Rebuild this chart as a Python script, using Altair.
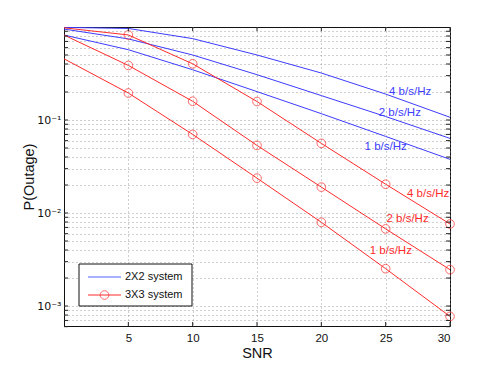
import altair as alt
import pandas as pd

# ---- data ----
snr = [0, 5, 10, 15, 20, 25, 30]
blue_4 = [0.99, 0.965, 0.75, 0.50, 0.32, 0.19, 0.107]
blue_2 = [0.95, 0.745, 0.50, 0.307, 0.183, 0.109, 0.0634]
blue_1 = [0.82, 0.57, 0.347, 0.202, 0.117, 0.0666, 0.0378]
red_4 = [0.98, 0.821, 0.402, 0.158, 0.0561, 0.0204, 0.00762]
red_2 = [0.82, 0.386, 0.159, 0.0533, 0.019, 0.00675, 0.00246]
red_1 = [0.455, 0.195, 0.070, 0.0237, 0.00795, 0.00252, 0.000773]

systems = ["2X2 system", "3X3 system"]
rates = ["4 b/s/Hz", "2 b/s/Hz", "1 b/s/Hz"]

ann_text = rates + rates
ann_sys = ["2X2 system"] * 3 + ["3X3 system"] * 3
ann_x = [26.9, 26.1, 25.0, 28.3, 26.7, 25.4]
ann_y = [0.202, 0.12, 0.0508, 0.016, 0.00863, 0.00393]

x_ticks = [5, 10, 15, 20, 25, 30]
mantissas = [1, 2, 3, 4, 5, 6, 7, 8, 9]
decades = [-4, -3, -2, -1]

BLUE = "#3c3cff"
RED = "#ff2b2b"
W, H = 386, 299

rows = []
series = {("2X2 system", "4 b/s/Hz"): blue_4, ("2X2 system", "2 b/s/Hz"): blue_2,
          ("2X2 system", "1 b/s/Hz"): blue_1, ("3X3 system", "4 b/s/Hz"): red_4,
          ("3X3 system", "2 b/s/Hz"): red_2, ("3X3 system", "1 b/s/Hz"): red_1}
for (s, r), vals in series.items():
    for xv, yv in zip(snr, vals):
        rows.append({"system": s, "rate": r, "snr": xv, "p": yv})
df = pd.DataFrame(rows)

ann = pd.DataFrame({"text": ann_text, "system": ann_sys, "snr": ann_x, "p": ann_y})

y_vals = [m * 10.0 ** d for d in decades for m in mantissas if 6e-4 <= m * 10.0 ** d <= 1.0]
ytick_df = pd.DataFrame({"p": y_vals})
xtick_df = pd.DataFrame({"snr": x_ticks})

FONT = "Liberation Sans"

xscale = alt.Scale(domain=[0, 30], nice=False, zero=False)
yscale = alt.Scale(type="log", domain=[6.1e-4, 1], nice=False)
cscale = alt.Scale(domain=systems, range=[BLUE, RED])

label_expr = ("datum.value > 0.099 && datum.value < 0.101 ? '10⁻¹' : "
              "datum.value > 0.0099 && datum.value < 0.0101 ? '10⁻²' : "
              "datum.value > 0.00099 && datum.value < 0.00101 ? '10⁻³' : ''")

x_enc = alt.X("snr:Q", scale=xscale, axis=alt.Axis(
    values=x_ticks, grid=True, gridDash=[1, 3], gridColor="#888", gridOpacity=0.8,
    ticks=False, domain=False, labelFont=FONT, labelFontSize=11.5, labelColor="#111",
    labelPadding=6, title="SNR", titleFont=FONT, titleFontSize=14.5,
    titleFontWeight="normal", titleColor="#111", titleY=31, titleBaseline="alphabetic"))
y_enc = alt.Y("p:Q", scale=yscale, axis=alt.Axis(
    values=y_vals, labelExpr=label_expr, grid=True, gridDash=[1, 3], gridColor="#888",
    gridOpacity=0.8, ticks=False, domain=False, labelFont="DejaVu Sans", labelFontSize=11,
    labelColor="#111", labelPadding=3, title="P(Outage)", titleFont=FONT,
    titleFontSize=14.5, titleFontWeight="normal", titleColor="#111", titleX=-31,
    titleBaseline="alphabetic"))

lines = alt.Chart(df).mark_line(strokeWidth=1, clip=True).encode(
    x=x_enc, y=y_enc,
    color=alt.Color("system:N", scale=cscale, legend=None),
    detail="rate:N")

points = alt.Chart(df).transform_filter(
    "datum.snr > 0 && datum.system == '3X3 system'").mark_point(
    shape="circle", filled=False, size=75, strokeWidth=1, color=RED).encode(
    x=alt.X("snr:Q", scale=xscale), y=alt.Y("p:Q", scale=yscale))

labels = alt.Chart(ann).mark_text(font=FONT, fontSize=11.5, align="center",
                                  baseline="middle").encode(
    x=alt.X("snr:Q", scale=xscale), y=alt.Y("p:Q", scale=yscale),
    text="text:N", color=alt.Color("system:N", scale=cscale, legend=None))

# inward ticks (MATLAB style)
tick_len = 4
ytick_l = alt.Chart(ytick_df).mark_rule(color="#222", strokeWidth=1).encode(
    y=alt.Y("p:Q", scale=yscale), x=alt.value(0), x2=alt.value(tick_len))
ytick_r = alt.Chart(ytick_df).mark_rule(color="#222", strokeWidth=1).encode(
    y=alt.Y("p:Q", scale=yscale), x=alt.value(W - tick_len), x2=alt.value(W))
xtick_b = alt.Chart(xtick_df).mark_rule(color="#222", strokeWidth=1).encode(
    x=alt.X("snr:Q", scale=xscale), y=alt.value(H), y2=alt.value(H - tick_len))
xtick_t = alt.Chart(xtick_df).mark_rule(color="#222", strokeWidth=1).encode(
    x=alt.X("snr:Q", scale=xscale), y=alt.value(0), y2=alt.value(tick_len))

# manual legend
one = pd.DataFrame({"k": [0]})
leg_box = alt.Chart(one).mark_rect(fill="white", stroke="#111", strokeWidth=1).encode(
    x=alt.value(15), x2=alt.value(128), y=alt.value(237), y2=alt.value(279))
leg_blue = alt.Chart(one).mark_rule(color="#a8b0ff", strokeWidth=2).encode(
    x=alt.value(24), x2=alt.value(57), y=alt.value(250))
leg_red = alt.Chart(one).mark_rule(color=RED, strokeWidth=1).encode(
    x=alt.value(24), x2=alt.value(57), y=alt.value(268))
leg_circ = alt.Chart(one).mark_point(shape="circle", filled=False, size=75,
                                     strokeWidth=1, color=RED).encode(
    x=alt.value(40.5), y=alt.value(268))
leg_t1 = alt.Chart(one).mark_text(text="2X2 system", font=FONT, fontSize=11,
                                  align="left", baseline="middle", color="#111").encode(
    x=alt.value(61), y=alt.value(250))
leg_t2 = alt.Chart(one).mark_text(text="3X3 system", font=FONT, fontSize=11,
                                  align="left", baseline="middle", color="#111").encode(
    x=alt.value(61), y=alt.value(268))

chart = alt.layer(
    lines, points, labels, ytick_l, ytick_r, xtick_b, xtick_t,
    leg_box, leg_blue, leg_red, leg_circ, leg_t1, leg_t2
).properties(
    width=W, height=H,
    autosize=alt.AutoSizeParams(type="none"),
    padding={"left": 56, "top": 19, "right": 40, "bottom": 35},
    background="white",
).configure_view(stroke="#111", strokeWidth=1)

chart.save("out.html", embed_options={"renderer": "svg", "actions": False})
